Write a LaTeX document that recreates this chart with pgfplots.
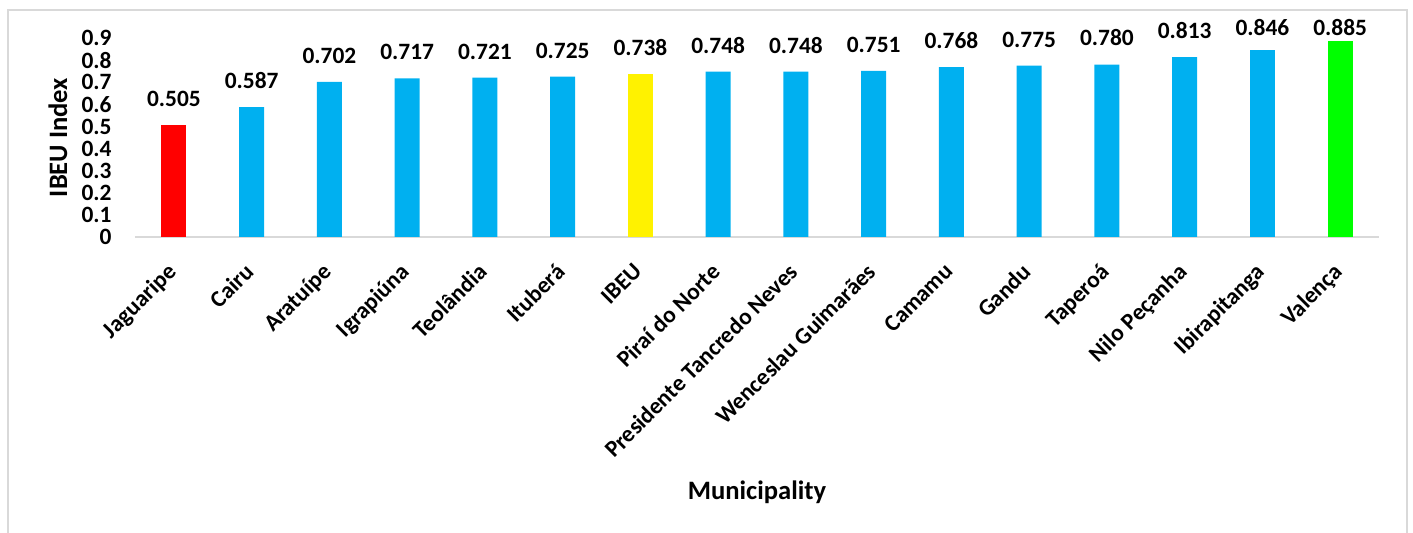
\documentclass[border=0pt]{standalone}
\usepackage{fontspec}
\setmainfont{Carlito}
\usepackage{pgfplots}
\pgfplotsset{compat=1.18}
\definecolor{barblue}{HTML}{00B0F0}
\definecolor{framegray}{HTML}{D9D9D9}
\newcommand{\cf}{\bfseries\fontsize{11.7}{14}\selectfont}
\newcommand{\tf}{\bfseries\fontsize{13.3}{16}\selectfont}
\begin{document}
\begin{tikzpicture}
\path[use as bounding box] (-67.5pt,-148pt) rectangle (639pt,118.5pt);
\draw[framegray, line width=0.7pt] (-63.5pt,-160pt) -- (-63.5pt,113.5pt) -- (636pt,113.5pt) -- (636pt,-160pt);
\begin{axis}[
  scale only axis, width=622pt, height=99.5pt,
  xmin=-0.5, xmax=15.5, ymin=0, ymax=0.9,
  ybar, bar width=12.5pt, bar shift=0pt,
  axis x line*=bottom, axis y line*=left,
  x axis line style={draw=framegray, line width=0.75pt},
  y axis line style={draw=none},
  major tick length=0pt, tick style={draw=none},
  xtick={0,...,15},
  xticklabels={Jaguaripe, Cairu, Aratuípe, Igrapiúna, Teolândia, Ituberá, IBEU, Piraí do Norte, Presidente Tancredo Neves, Wenceslau Guimarães, Camamu, Gandu, Taperoá, Nilo Peçanha, Ibirapitanga, Valença},
  ytick={0,0.1,0.2,0.3,0.4,0.5,0.6,0.7,0.8,0.9},
  /pgf/number format/assume math mode=true,
  tick label style={font=\cf},
  yticklabel style={anchor=east, inner sep=0pt, xshift=-11.5pt, /pgf/number format/fixed, /pgf/number format/precision=1},
  xticklabel style={xshift=-4pt, yshift=-12.2pt, rotate=45, anchor=north east, inner sep=0pt},
  ylabel={IBEU Index},
  ylabel style={at={(axis description cs:-0.0619,0.5)}, anchor=center, font=\tf},
  xlabel={Municipality},
  xlabel style={at={(axis description cs:0.5,-1.283)}, anchor=center, font=\tf},
  nodes near coords,
  every node near coord/.append style={font=\cf, text=black, anchor=south, inner sep=0pt,
    /pgf/number format/fixed, /pgf/number format/fixed zerofill, /pgf/number format/precision=3},
  clip=false,
]
\addplot[fill=red, draw=none, every node near coord/.append style={yshift=9pt}] coordinates {(0,0.505)};
\addplot[fill=barblue, draw=none, every node near coord/.append style={yshift=9pt}] coordinates {(1,0.587) (2,0.702) (3,0.717) (4,0.721) (5,0.725) (7,0.748) (8,0.748) (9,0.751) (10,0.768) (11,0.775) (12,0.780) (13,0.813)};
\addplot[fill=yellow, draw=none, every node near coord/.append style={yshift=9pt}] coordinates {(6,0.738)};
\addplot[fill=barblue, draw=none, every node near coord/.append style={yshift=7pt}] coordinates {(14,0.846)};
\addplot[fill=green, draw=none, every node near coord/.append style={yshift=2.5pt}] coordinates {(15,0.885)};
\end{axis}
\end{tikzpicture}
\end{document}
